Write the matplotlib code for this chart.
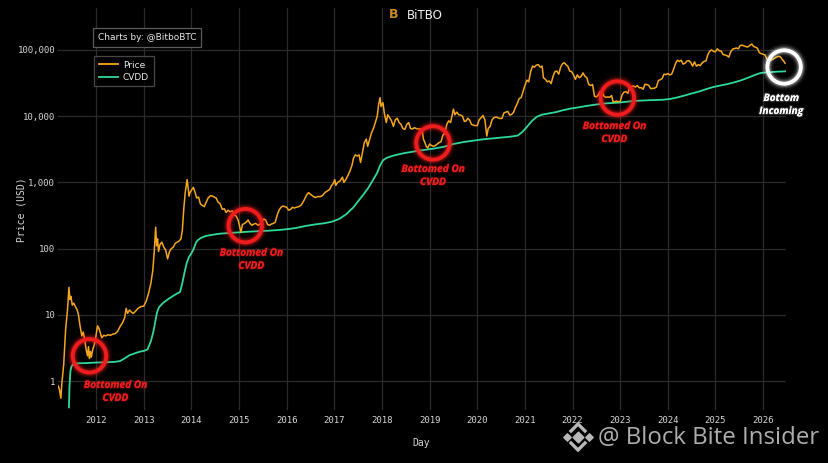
import matplotlib
matplotlib.use("Agg")
import matplotlib.pyplot as plt
import matplotlib.patheffects as pe
from matplotlib.ticker import FixedLocator, FuncFormatter, NullLocator
from matplotlib.lines import Line2D

# ---------------- data ----------------
price_t = [2011.20, 2011.23, 2011.26, 2011.28, 2011.32, 2011.36, 2011.40, 2011.43, 2011.45, 2011.47,
           2011.50, 2011.53, 2011.56, 2011.60, 2011.63, 2011.66, 2011.70, 2011.73, 2011.76, 2011.79,
           2011.82, 2011.84, 2011.86, 2011.88, 2011.90, 2011.93, 2011.96, 2011.99, 2012.03, 2012.06,
           2012.09, 2012.12, 2012.16, 2012.20, 2012.25, 2012.30, 2012.35, 2012.40, 2012.45, 2012.50,
           2012.55, 2012.60, 2012.63, 2012.66, 2012.70, 2012.74, 2012.78, 2012.82, 2012.88, 2012.94,
           2013.00, 2013.05, 2013.10, 2013.15, 2013.19, 2013.22, 2013.25, 2013.27, 2013.29, 2013.31,
           2013.34, 2013.38, 2013.42, 2013.46, 2013.50, 2013.54, 2013.58, 2013.62, 2013.66, 2013.70,
           2013.74, 2013.78, 2013.81, 2013.84, 2013.87, 2013.91, 2013.93, 2013.95, 2013.97, 2014.00,
           2014.04, 2014.08, 2014.11, 2014.15, 2014.19, 2014.23, 2014.27, 2014.31, 2014.35, 2014.40,
           2014.44, 2014.48, 2014.52, 2014.56, 2014.60, 2014.65, 2014.69, 2014.73, 2014.77, 2014.81,
           2014.86, 2014.90, 2014.94, 2014.98, 2015.01, 2015.04, 2015.07, 2015.11, 2015.15, 2015.19,
           2015.23, 2015.27, 2015.31, 2015.35, 2015.40, 2015.44, 2015.48, 2015.52, 2015.56, 2015.60,
           2015.64, 2015.68, 2015.72, 2015.76, 2015.80, 2015.84, 2015.88, 2015.92, 2015.96, 2016.00,
           2016.04, 2016.08, 2016.12, 2016.16, 2016.20, 2016.25, 2016.30, 2016.36, 2016.42, 2016.46,
           2016.50, 2016.55, 2016.60, 2016.65, 2016.70, 2016.75, 2016.80, 2016.85, 2016.90, 2016.94,
           2016.98, 2017.01, 2017.03, 2017.07, 2017.12, 2017.17, 2017.20, 2017.24, 2017.28, 2017.33,
           2017.37, 2017.40, 2017.44, 2017.48, 2017.52, 2017.55, 2017.59, 2017.63, 2017.67, 2017.70,
           2017.74, 2017.78, 2017.82, 2017.86, 2017.90, 2017.93, 2017.96, 2017.98, 2018.02, 2018.05,
           2018.09, 2018.12, 2018.16, 2018.20, 2018.24, 2018.28, 2018.32, 2018.36, 2018.40, 2018.44,
           2018.48, 2018.52, 2018.56, 2018.60, 2018.64, 2018.68, 2018.72, 2018.76, 2018.80, 2018.84,
           2018.87, 2018.90, 2018.93, 2018.96, 2019.00, 2019.04, 2019.08, 2019.12, 2019.16, 2019.20,
           2019.24, 2019.28, 2019.32, 2019.36, 2019.40, 2019.44, 2019.48, 2019.50, 2019.53, 2019.57,
           2019.61, 2019.65, 2019.69, 2019.73, 2019.77, 2019.80, 2019.84, 2019.88, 2019.92, 2019.96,
           2020.00, 2020.04, 2020.08, 2020.12, 2020.16, 2020.20, 2020.23, 2020.27, 2020.31, 2020.35,
           2020.40, 2020.44, 2020.48, 2020.52, 2020.56, 2020.60, 2020.64, 2020.68, 2020.72, 2020.76,
           2020.80, 2020.84, 2020.88, 2020.92, 2020.96, 2021.00, 2021.04, 2021.08, 2021.12, 2021.16,
           2021.20, 2021.24, 2021.28, 2021.32, 2021.36, 2021.39, 2021.43, 2021.47, 2021.51, 2021.55,
           2021.59, 2021.63, 2021.67, 2021.71, 2021.75, 2021.79, 2021.83, 2021.86, 2021.90, 2021.94,
           2021.98, 2022.02, 2022.06, 2022.10, 2022.14, 2022.18, 2022.22, 2022.26, 2022.30, 2022.34,
           2022.38, 2022.42, 2022.46, 2022.50, 2022.54, 2022.58, 2022.62, 2022.66, 2022.70, 2022.74,
           2022.78, 2022.82, 2022.85, 2022.88, 2022.92, 2022.96, 2023.00, 2023.04, 2023.08, 2023.12,
           2023.16, 2023.20, 2023.24, 2023.28, 2023.32, 2023.36, 2023.40, 2023.44, 2023.48, 2023.52,
           2023.56, 2023.60, 2023.64, 2023.68, 2023.72, 2023.76, 2023.80, 2023.84, 2023.88, 2023.92,
           2023.96, 2024.00, 2024.04, 2024.08, 2024.12, 2024.16, 2024.20, 2024.24, 2024.28, 2024.32,
           2024.36, 2024.40, 2024.44, 2024.48, 2024.52, 2024.56, 2024.60, 2024.64, 2024.68, 2024.72,
           2024.76, 2024.80, 2024.84, 2024.88, 2024.92, 2024.96, 2025.00, 2025.04, 2025.08, 2025.12,
           2025.16, 2025.20, 2025.24, 2025.28, 2025.32, 2025.36, 2025.40, 2025.44, 2025.48, 2025.52,
           2025.56, 2025.60, 2025.64, 2025.68, 2025.72, 2025.76, 2025.80, 2025.84, 2025.88, 2025.92,
           2025.96, 2026.00, 2026.04, 2026.08, 2026.12, 2026.16, 2026.20, 2026.24, 2026.28, 2026.32,
           2026.36, 2026.40, 2026.43, 2026.46]
price_v = [0.85, 0.75, 0.55, 0.9, 1.8, 6, 12, 26, 17, 19,
           14, 15, 13.5, 12, 10, 7, 4.8, 5.5, 4.2, 3.0,
           2.4, 3.3, 2.2, 2.8, 2.3, 3.0, 3.5, 4.5, 6.8, 6.2,
           5.3, 4.5, 4.9, 4.8, 5.0, 4.9, 5.1, 5.2, 5.6, 6.6,
           7.5, 9, 12.5, 10.5, 11.8, 11, 10.5, 11.2, 12.5, 13.3,
           13.5, 16, 21, 30, 47, 90, 210, 110, 140, 90,
           115, 125, 105, 95, 70, 90, 100, 105, 120, 125,
           130, 140, 190, 400, 700, 1100, 850, 620, 700, 760,
           840, 700, 580, 600, 470, 450, 430, 500, 580, 630,
           620, 600, 580, 500, 480, 390, 400, 350, 380, 360,
           370, 320, 310, 270, 220, 175, 230, 240, 250, 270,
           240, 225, 235, 240, 225, 235, 260, 280, 270, 230,
           225, 235, 240, 250, 320, 380, 420, 440, 430, 420,
           380, 390, 420, 410, 420, 430, 450, 530, 650, 700,
           660, 620, 590, 610, 610, 630, 700, 740, 780, 890,
           970, 1100, 900, 1000, 1050, 1200, 1000, 1100, 1250, 1500,
           1800, 2300, 2600, 2500, 2600, 2000, 2800, 4000, 4500, 3500,
           4400, 5600, 6500, 8000, 10000, 15000, 19000, 14000, 16000, 11000,
           8000, 10500, 9500, 8500, 7000, 8800, 9300, 8000, 7500, 6500,
           6300, 7500, 8000, 6500, 6400, 6700, 6500, 6400, 6400, 6300,
           4500, 4000, 3500, 3300, 3800, 3600, 3500, 3600, 3800, 4000,
           4100, 5200, 5500, 7500, 8500, 8000, 11000, 12800, 10500, 11500,
           10500, 10400, 10000, 8300, 8500, 9300, 8700, 7500, 7300, 7200,
           7200, 8800, 9500, 10200, 8800, 5000, 6500, 7000, 8800, 9500,
           9700, 9400, 9200, 9300, 11200, 11500, 11800, 10400, 10600, 11400,
           13500, 15500, 18500, 19000, 23500, 29000, 35000, 33000, 47000, 57000,
           55000, 59000, 60000, 55000, 57000, 38000, 36000, 33000, 34000, 31000,
           40000, 47000, 48000, 43000, 55000, 62000, 64000, 60000, 57000, 48000,
           47000, 42000, 36000, 42000, 38000, 40000, 45000, 40000, 38000, 30000,
           29000, 30000, 20000, 19500, 21000, 23500, 23000, 20000, 19200, 19500,
           19300, 20500, 16500, 16500, 16900, 16600, 16600, 21000, 23000, 23500,
           22000, 27500, 28000, 28500, 27500, 29000, 26800, 27000, 25500, 30300,
           30000, 29200, 26000, 26200, 26500, 27500, 34500, 35500, 37000, 43000,
           42500, 44000, 42000, 43000, 51000, 62000, 70000, 67000, 70000, 61000,
           63000, 68000, 69000, 65000, 57000, 66000, 57000, 60000, 58000, 64000,
           67000, 68000, 85000, 96000, 100000, 95000, 94000, 104000, 97000, 96000,
           85000, 84000, 82000, 78000, 94000, 103000, 105000, 107000, 104000, 117000,
           118000, 115000, 112000, 111000, 117000, 123000, 113000, 110000, 106000, 91000,
           88000, 86000, 84000, 72000, 68000, 70000, 72000, 75000, 78000, 80000,
           79000, 72000, 68000, 63000]

cvdd_t = [2011.43, 2011.44, 2011.46, 2011.48, 2011.52, 2011.60, 2011.80, 2012.00, 2012.20, 2012.40,
          2012.50, 2012.60, 2012.70, 2012.80, 2012.90, 2013.00, 2013.08, 2013.15, 2013.20, 2013.25,
          2013.28, 2013.32, 2013.40, 2013.50, 2013.60, 2013.70, 2013.76, 2013.80, 2013.86, 2013.90,
          2013.95, 2014.00, 2014.05, 2014.10, 2014.14, 2014.20, 2014.30, 2014.45, 2014.60, 2014.80,
          2015.00, 2015.20, 2015.40, 2015.60, 2015.80, 2016.00, 2016.20, 2016.40, 2016.60, 2016.80,
          2016.95, 2017.10, 2017.25, 2017.40, 2017.50, 2017.60, 2017.70, 2017.80, 2017.90, 2017.96,
          2018.02, 2018.10, 2018.25, 2018.45, 2018.70, 2018.90, 2019.10, 2019.30, 2019.50, 2019.70,
          2019.90, 2020.10, 2020.30, 2020.50, 2020.70, 2020.85, 2020.95, 2021.05, 2021.15, 2021.25,
          2021.35, 2021.50, 2021.65, 2021.80, 2021.95, 2022.10, 2022.30, 2022.50, 2022.70, 2022.90,
          2023.00, 2023.30, 2023.60, 2023.90, 2024.05, 2024.20, 2024.35, 2024.50, 2024.65, 2024.80,
          2024.95, 2025.10, 2025.25, 2025.40, 2025.55, 2025.70, 2025.85, 2025.95, 2026.10, 2026.30,
          2026.46]
cvdd_v = [0.4, 0.8, 1.4, 1.65, 1.8, 1.85, 1.87, 1.9, 1.92, 1.95,
          2.0, 2.2, 2.45, 2.6, 2.75, 2.85, 3.0, 4.0, 5.5, 8.5,
          11, 13, 15, 17, 19, 21, 22, 28, 45, 60,
          75, 85, 100, 125, 135, 145, 155, 162, 168, 172,
          176, 180, 183, 186, 190, 196, 205, 220, 232, 242,
          255, 280, 330, 420, 520, 640, 800, 1050, 1400, 1800,
          2150, 2350, 2550, 2750, 2950, 3100, 3250, 3450, 3800, 4050,
          4250, 4450, 4600, 4750, 4900, 5100, 5800, 7000, 8500, 9800,
          10500, 11000, 11500, 12300, 13000, 13500, 14300, 15000, 15600, 15900,
          16100, 17000, 17400, 17700, 18200, 19200, 20500, 22000, 23500, 25500,
          27500, 29000, 30500, 32500, 35000, 38500, 42500, 45000, 46000, 47000,
          47500]

ann_t = [2011.86, 2015.13, 2019.07, 2022.94, 2026.44]
ann_v = [2.4, 222, 3940, 18800, 55300]
ann_text = ["Bottomed On\nCVDD", "Bottomed On\nCVDD", "Bottomed On\nCVDD",
            "Bottomed On\nCVDD", "Bottom\nIncoming"]
ann_col = ["#ee1c1c", "#ee1c1c", "#ee1c1c", "#ee1c1c", "#ffffff"]
ann_off = [(26, -36), (6, -34), (0, -33), (-3, -35), (-3, -38)]

x_ticks = list(range(2012, 2027))
y_ticks = [1, 10, 100, 1000, 10000, 100000]

PRICE_C = "#f5a61d"
CVDD_C = "#2fd99c"
W, H = 829, 463

fig = plt.figure(figsize=(W / 100, H / 100), dpi=100, facecolor="black")
ax = fig.add_axes([58 / W, 1 - 410 / H, (786 - 58) / W, (410 - 8) / H])
ax.set_facecolor("black")
ax.set_yscale("log")
ax.set_xlim(2011.20, 2026.48)
ax.set_ylim(0.365, 430000)

ax.xaxis.set_major_locator(FixedLocator(x_ticks))
ax.yaxis.set_major_locator(FixedLocator(y_ticks))
ax.yaxis.set_minor_locator(NullLocator())
ax.xaxis.set_major_formatter(FuncFormatter(lambda v, p: f"{int(round(v))}"))
ax.yaxis.set_major_formatter(FuncFormatter(lambda v, p: f"{v:,.0f}"))
ax.grid(True, color="#2b2b2b", lw=0.9)
ax.set_axisbelow(True)
for s in ax.spines.values():
    s.set_visible(False)
ax.tick_params(length=0, colors="#d6d6d6", labelsize=6.5)
ax.tick_params(axis="x", pad=4)
ax.tick_params(axis="y", pad=2)
for lab in ax.get_xticklabels() + ax.get_yticklabels():
    lab.set_family("DejaVu Sans Mono")

ax.plot(cvdd_t, cvdd_v, color=CVDD_C, lw=1.3, zorder=3, label="CVDD")
ax.plot(price_t, price_v, color=PRICE_C, lw=1.1, zorder=4, label="Price")

# circles with glow
for t, v, c in zip(ann_t, ann_v, ann_col):
    glow = "#ff2020" if c != "#ffffff" else "#ffffff"
    for lw_, a_ in [(9, 0.08), (6.5, 0.14), (4.6, 0.25)]:
        ax.scatter([t], [v], s=580, facecolors="none", edgecolors=glow,
                   linewidths=lw_, alpha=a_, zorder=5, clip_on=False)
    ax.scatter([t], [v], s=580, facecolors="none", edgecolors=c,
               linewidths=2.8, zorder=6, clip_on=False)

for t, v, txt, c, off in zip(ann_t, ann_v, ann_text, ann_col, ann_off):
    glowc = (1, 0.1, 0.1, 0.18) if c != "#ffffff" else (1, 1, 1, 0.16)
    ax.annotate(txt, xy=(t, v), xytext=off, textcoords="offset pixels",
                ha="center", va="center", color=c, fontsize=7.3,
                fontweight="bold", fontstyle="italic", family=["Open Sans", "DejaVu Sans"],
                linespacing=1.25, zorder=7, annotation_clip=False,
                path_effects=[pe.withStroke(linewidth=1.8, foreground=glowc)])

# legend
handles = [Line2D([0], [0], color=PRICE_C, lw=1.3), Line2D([0], [0], color=CVDD_C, lw=1.3)]
leg = fig.legend(handles, ["Price", "CVDD"], loc="upper left",
                 bbox_to_anchor=(94 / W, 1 - 56 / H), frameon=True, fontsize=6.5,
                 handlelength=2.2, handletextpad=0.5, borderpad=0.5, labelspacing=0.35,
                 borderaxespad=0, fancybox=False, labelcolor="#e8e8e8")
leg.get_frame().set_facecolor("black")
leg.get_frame().set_edgecolor("#5a5a5a")
leg.get_frame().set_linewidth(0.9)

# overlay in pixel coordinates for decorations
ov = fig.add_axes([0, 0, 1, 1], facecolor="none")
ov.set_xlim(0, W)
ov.set_ylim(H, 0)
ov.axis("off")

ov.text(98, 37.5, "Charts by: @BitboBTC", fontsize=6.5, color="#e8e8e8", va="center", ha="left",
        bbox=dict(boxstyle="square,pad=0.55", fc="black", ec="#5a5a5a", lw=0.9))

ov.text(22, 210, "Price (USD)", rotation=90, fontsize=7, color="#d6d6d6",
        family="DejaVu Sans Mono", ha="center", va="center")
ov.text(421, 443, "Day", fontsize=7, color="#d6d6d6", family="DejaVu Sans Mono",
        ha="center", va="center")

# BITBO logo
ov.text(394, 15, "B", fontsize=9, color="#c98a1f", fontweight="bold", ha="center", va="center")
ov.text(407, 15.5, "BiTBO", fontsize=8.5, color="#f0f0f0", ha="left", va="center")

# watermark
wm = "#b8b8b8"
ov.text(598, 438.5, "@ Block Bite Insider", fontsize=17.3, color=wm, ha="left", va="center",
        family=["Open Sans", "DejaVu Sans"], alpha=0.95)
ov.plot([571, 578, 585], [431, 424, 431], color=wm, lw=2.4, solid_joinstyle="miter")
ov.plot([571, 578, 585], [443, 450, 443], color=wm, lw=2.4, solid_joinstyle="miter")
ov.scatter([567, 589], [437, 437], marker="D", s=14, color=wm)
ov.scatter([578], [437], marker="D", s=30, color=wm)

fig.savefig("out.png", dpi=100, facecolor="black")
